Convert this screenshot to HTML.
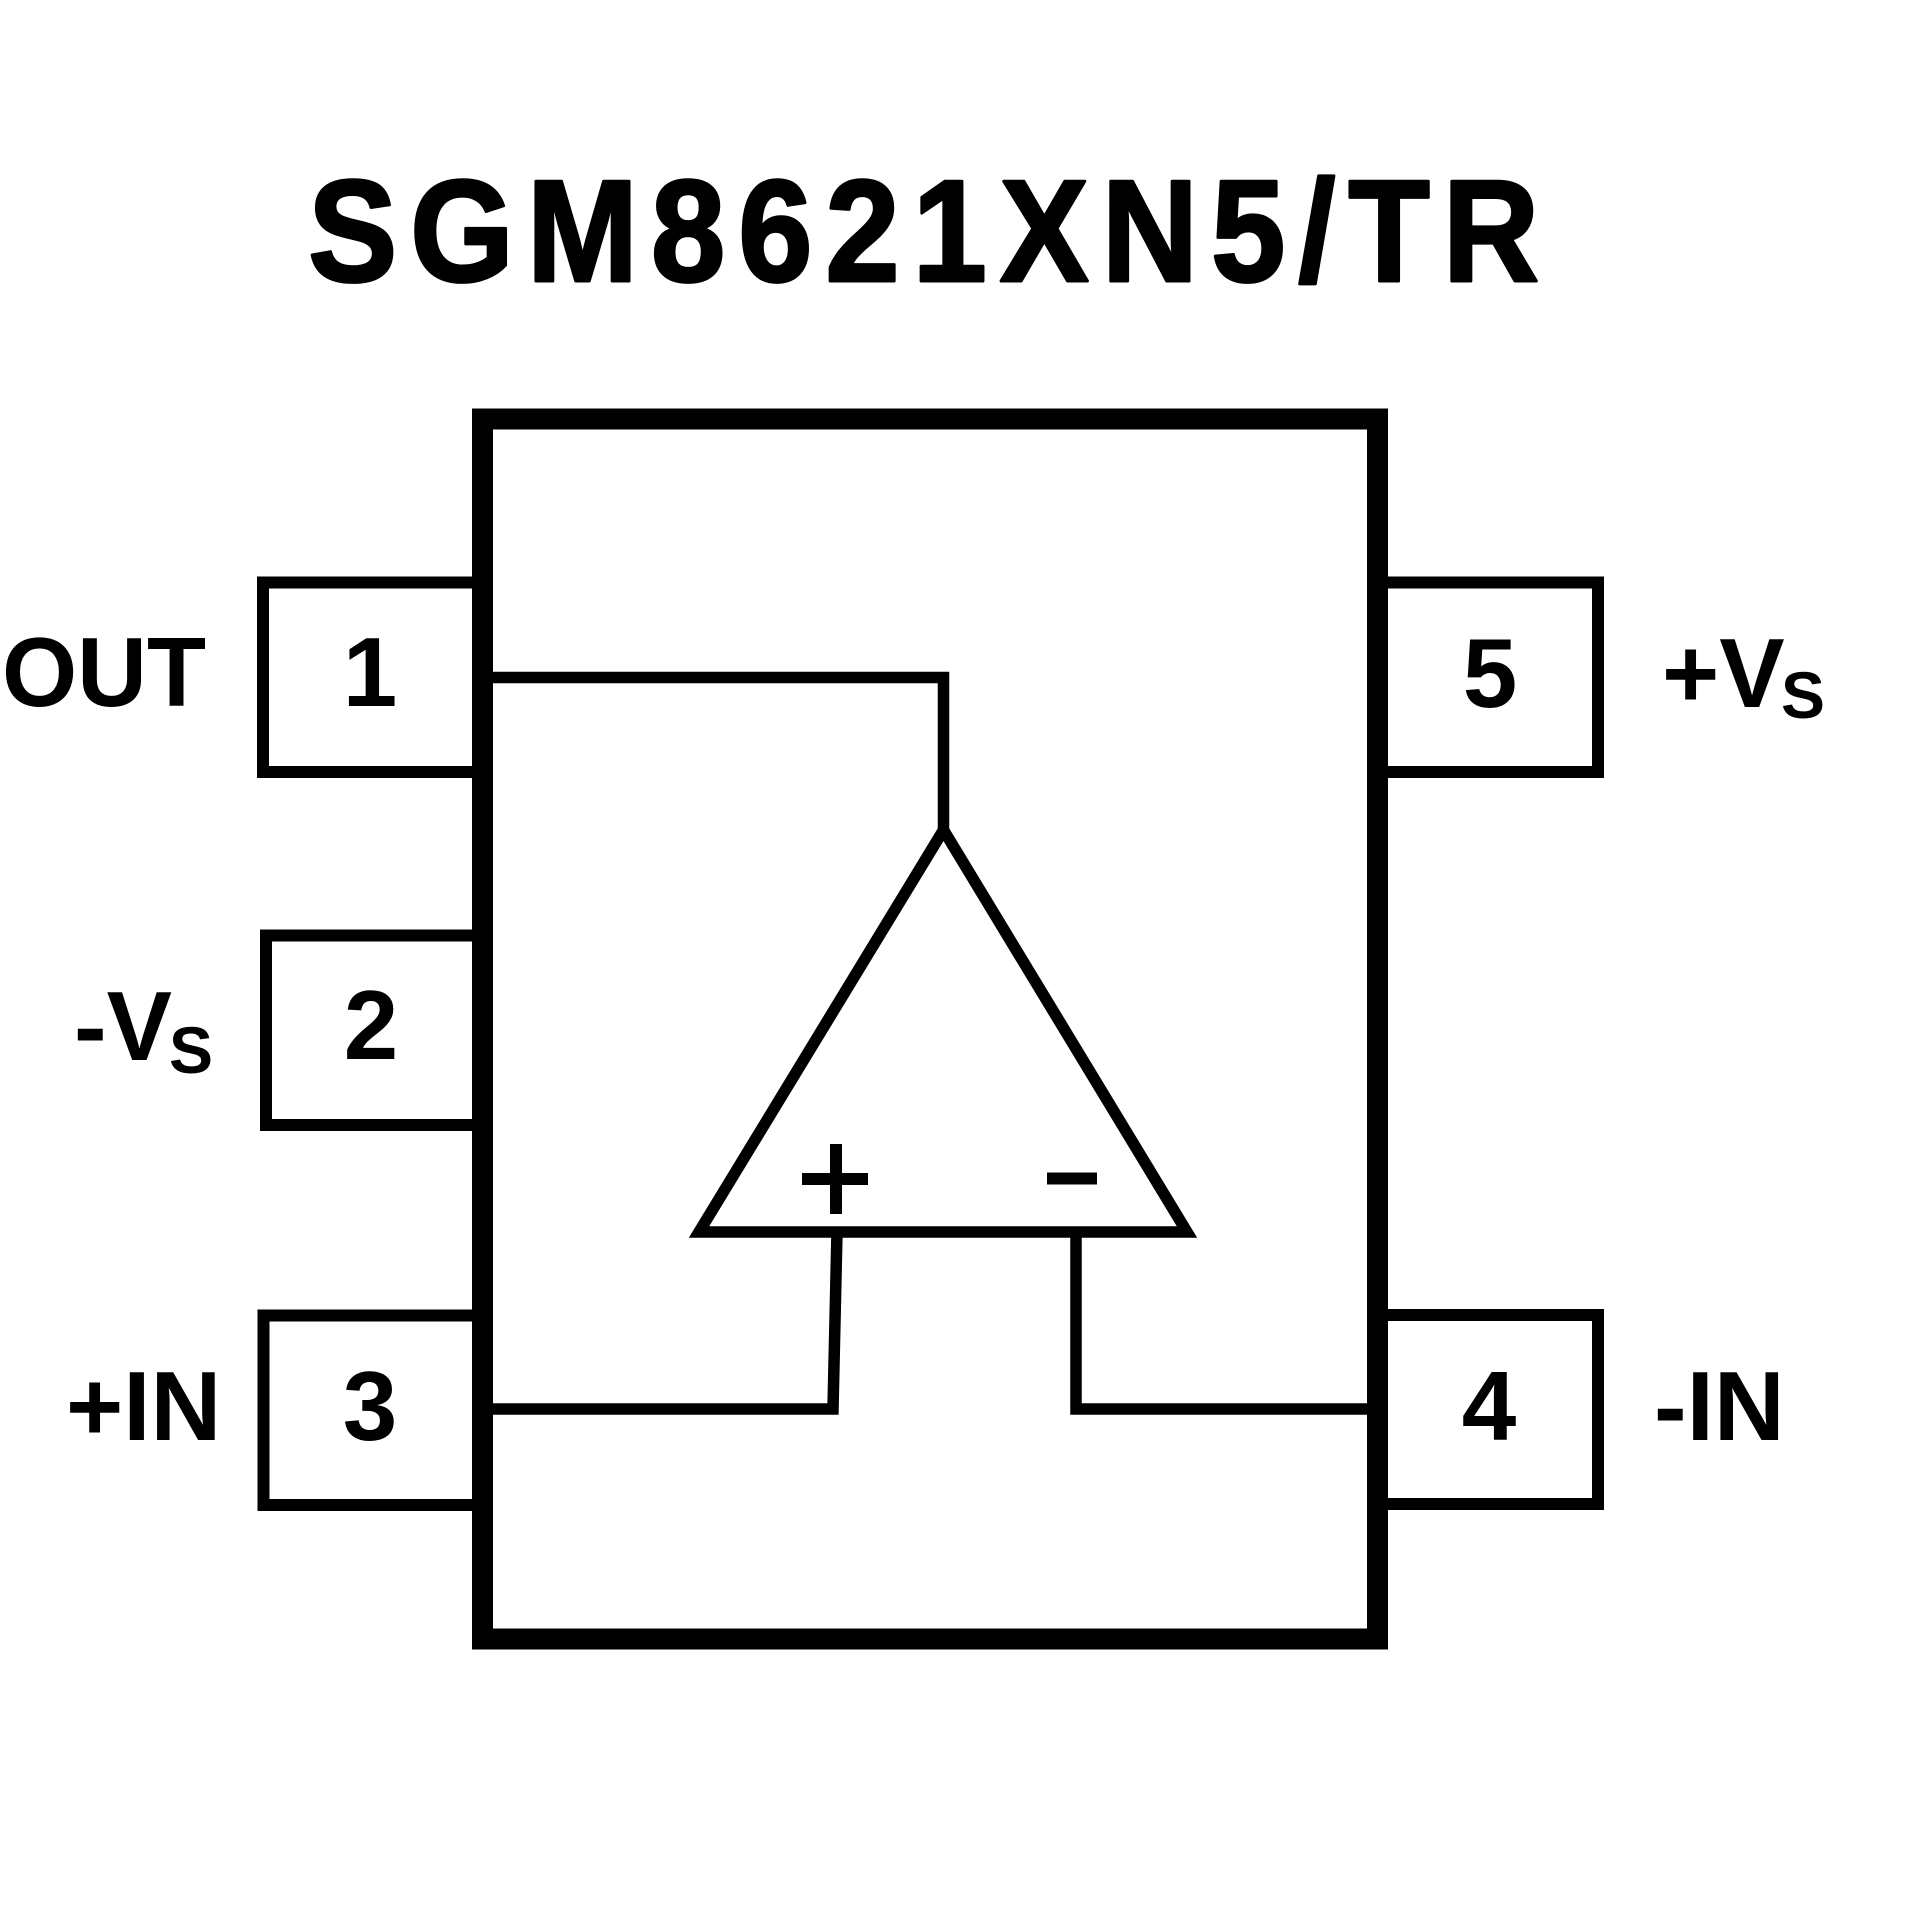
<!DOCTYPE html>
<html>
<head>
<meta charset="utf-8">
<style>
  html,body{margin:0;padding:0;background:#fff;}
  svg{display:block;}
  text{font-family:"Liberation Sans", Arial, sans-serif;font-weight:bold;fill:#000;}
</style>
</head>
<body>
<svg width="1920" height="1920" viewBox="0 0 1920 1920" xmlns="http://www.w3.org/2000/svg">
  <rect x="0" y="0" width="1920" height="1920" fill="#fff"/>

  <!-- Title -->
  <text transform="scale(0.92,1)" x="335" y="281" font-size="145" textLength="1338" lengthAdjust="spacing" stroke="#000" stroke-width="3" stroke-linejoin="round">SGM8621XN5/TR</text>

  <!-- Pin boxes (left) -->
  <g fill="none" stroke="#000" stroke-width="12" stroke-linejoin="miter">
    <path d="M476 582.5 H263 V772 H476"/>
    <path d="M476 935.5 H266 V1125 H476"/>
    <path d="M476 1315.5 H263.5 V1505 H476"/>
    <!-- right -->
    <path d="M1384 582.5 H1598 V772 H1384"/>
    <path d="M1384 1315 H1598 V1504 H1384"/>
  </g>

  <!-- Main package body -->
  <rect x="482.5" y="419" width="895" height="1220" fill="none" stroke="#000" stroke-width="21"/>

  <!-- Wires -->
  <g fill="none" stroke="#000" stroke-width="11.5" stroke-linejoin="miter">
    <path d="M493 677.5 H943.5 V832"/>
    <path d="M837 1232 L833 1409 H493"/>
    <path d="M1076 1232 V1409 H1368"/>
    <!-- op-amp triangle -->
    <path d="M943.5 830 L1187 1232 L699 1232 Z"/>
  </g>

  <!-- + and - inside triangle -->
  <rect x="802" y="1173" width="66" height="12" fill="#000"/>
  <rect x="830" y="1144" width="12" height="70" fill="#000"/>
  <rect x="1047" y="1172.5" width="50" height="12" fill="#000"/>

  <!-- Pin numbers -->
  <g font-size="98" text-anchor="middle">
    <text x="370" y="706">1</text>
    <text x="371" y="1059">2</text>
    <text x="370" y="1440">3</text>
    <text x="1490" y="707">5</text>
    <text x="1489" y="1440">4</text>
  </g>

  <!-- Pin labels -->
  <text x="2" y="706" font-size="98" textLength="204" lengthAdjust="spacingAndGlyphs">OUT</text>

  <text x="74" y="1060" font-size="98">-V</text>
  <text x="169" y="1073" font-size="66">S</text>

  <text x="66" y="1440" font-size="98">+IN</text>

  <text x="1662" y="707" font-size="98">+V</text>
  <text x="1781" y="718" font-size="66">S</text>

  <text x="1654" y="1440" font-size="98">-IN</text>
</svg>
</body>
</html>
